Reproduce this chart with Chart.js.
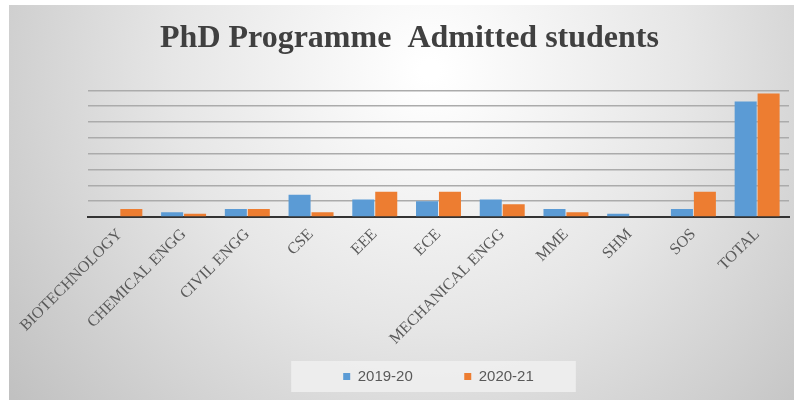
<!DOCTYPE html>
<html>
<head>
<meta charset="utf-8">
<script src="https://cdn.jsdelivr.net/npm/chart.js@4/dist/chart.umd.min.js"></script>
<style>
  html, body { margin: 0; padding: 0; background: #fff; }
  #wrap { width: 794px; height: 402px; position: relative; }
</style>
</head>
<body>
<div id="wrap"><canvas id="c" width="794" height="402"></canvas></div>
<script>
// Data (grid step = 10)
var categories = ["BIOTECHNOLOGY", "CHEMICAL ENGG", "CIVIL ENGG", "CSE", "EEE", "ECE",
  "MECHANICAL ENGG", "MME", "SHM", "SOS", "TOTAL"];
var admitted1920 = [0, 3, 5, 14, 11, 10, 11, 5, 2, 5, 73];
var admitted2021 = [5, 2, 5, 3, 16, 16, 8, 3, 0, 16, 78];
var seriesNames = ["2019-20", "2020-21"];

// gray radial backdrop, like the slide the chart was pasted from
var bgPlugin = {
  id: "bg",
  beforeDraw: function(chart) {
    var ctx = chart.ctx;
    ctx.save();
    var g = ctx.createRadialGradient(430, 70, 10, 430, 70, 560);
    g.addColorStop(0, "#ffffff");
    g.addColorStop(0.45, "#e6e6e6");
    g.addColorStop(1, "#bdbdbd");
    ctx.fillStyle = g;
    ctx.fillRect(9, 5, 785, 395);
    ctx.restore();
  }
};

// light panel behind the legend items
var legendBoxPlugin = {
  id: "legendBox",
  beforeDraw: function(chart) {
    var lg = chart.legend;
    if (!lg || !lg.legendHitBoxes || !lg.legendHitBoxes.length) return;
    var boxes = lg.legendHitBoxes;
    var l = boxes[0].left - 52;
    var r = boxes[boxes.length - 1].left + boxes[boxes.length - 1].width + 42;
    var t = boxes[0].top - 8;
    var b = boxes[0].top + boxes[0].height + 8;
    var ctx = chart.ctx;
    ctx.save();
    ctx.fillStyle = "rgba(240,240,240,0.85)";
    ctx.fillRect(l, t, r - l, b - t);
    ctx.restore();
  }
};

new Chart(document.getElementById("c").getContext("2d"), {
  type: "bar",
  data: {
    labels: categories,
    datasets: [
      { label: seriesNames[0], data: admitted1920, backgroundColor: "#5b9bd5" },
      { label: seriesNames[1], data: admitted2021, backgroundColor: "#ed7d31" }
    ]
  },
  options: {
    responsive: false,
    animation: false,
    devicePixelRatio: 1,
    layout: { padding: { left: 30, right: 5, top: 0, bottom: 8 } },
    datasets: { bar: { barPercentage: 0.96, categoryPercentage: 0.72 } },
    plugins: {
      title: {
        display: true,
        text: "PhD Programme  Admitted students",
        color: "#404040",
        font: { family: "'Liberation Serif', 'DejaVu Serif', serif", size: 32, weight: "bold" },
        padding: { top: 20, bottom: 32 }
      },
      legend: {
        position: "bottom",
        fullSize: false,
        labels: {
          boxWidth: 7, boxHeight: 7, padding: 14,
          color: "#595959",
          font: { family: "'Liberation Sans', 'Open Sans', sans-serif", size: 15 },
          generateLabels: function(chart) {
            var items = Chart.defaults.plugins.legend.labels.generateLabels(chart);
            // wider gap between the two entries, as in the original legend
            if (items.length) items[0].text = items[0].text + "         ";
            return items;
          }
        }
      },
      tooltip: { enabled: false }
    },
    scales: {
      x: {
        grid: { display: false },
        border: { display: true, color: "#333333", width: 2 },
        ticks: {
          minRotation: 45, maxRotation: 45,
          color: "#595959",
          font: { family: "'Liberation Serif', 'DejaVu Serif', serif", size: 16 },
          padding: 0
        },
        afterFit: function(s) { s.height = 138; }
      },
      y: {
        min: 0, max: 80,
        ticks: { display: false, stepSize: 10 },
        grid: { color: "#ababab", lineWidth: 1.5, drawTicks: false },
        border: { display: false },
        afterFit: function(s) { s.width = 58; }
      }
    }
  },
  plugins: [bgPlugin, legendBoxPlugin]
});
</script>
</body>
</html>
